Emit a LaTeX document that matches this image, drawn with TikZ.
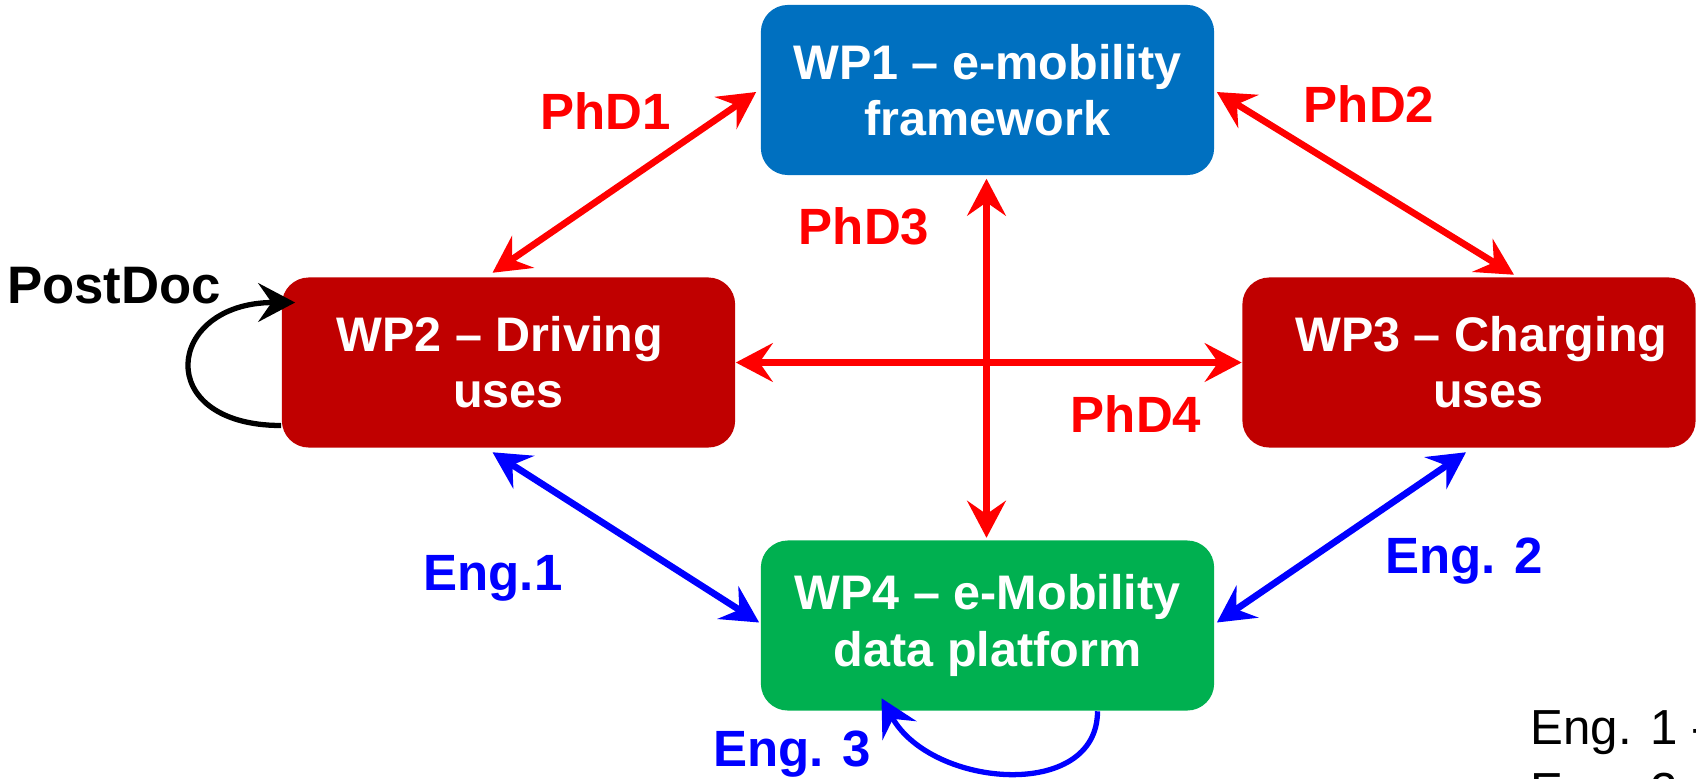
\documentclass[tikz,border=0pt]{standalone}
\usepackage{fontspec}
\setmainfont{Liberation Sans}
\usepackage{xcolor}
\usetikzlibrary{arrows.meta, positioning, calc}
\definecolor{wpblue}{HTML}{0070C0}
\definecolor{wpred}{HTML}{C00000}
\definecolor{wpgreen}{HTML}{00B050}

\begin{document}
\begin{tikzpicture}[x=0.01cm, y=-0.01cm,
    wpbox/.style={rounded corners=0.27cm, minimum width=4.53cm, minimum height=1.7cm,
      inner sep=0pt, text=white, align=center, font=\fontsize{13.8}{16}\selectfont\bfseries},
    twoway/.style={{Stealth[length=10.5pt,width=11pt,inset=3.8pt]}-{Stealth[length=10.5pt,width=11pt,inset=3.8pt]},
      line width=1.9pt},
    oneway/.style={-{Stealth[length=10.5pt,width=11pt,inset=3.8pt]}, line width=1.5pt},
    lbl/.style={anchor=base, inner sep=0pt, font=\fontsize{14.5}{16}\selectfont\bfseries}]
          \useasboundingbox (0,0) rectangle (1696,778);

          \coordinate (C1) at (987.5,90);
          \coordinate (C2) at (508.5,362.5);
          \coordinate (C3) at (1469,362.5);
          \coordinate (C4) at (987.5,625.5);

          \node[wpbox, fill=wpblue] (WP1) at (C1) {WP1 – e-mobility\\framework};
          \node[wpbox, fill=wpred] (WP2) at (C2) {WP2 – Driving\hspace*{5pt}\\uses};
          \node[wpbox, fill=wpred] (WP3) at (C3) {\hspace*{7pt}WP3 – Charging\\\hspace*{11pt}uses};
          \node[wpbox, fill=wpgreen] (WP4) at (C4) {WP4 – e-Mobility\\data platform};

          % PhD links
          \draw[twoway, red] ($(WP2.north)+(-16,-4)$) -- ($(WP1.west)+(-4,2)$);
          \draw[twoway, red] ($(WP1.east)+(2,2)$) -- ($(WP3.north)+(45,-2)$);
          \draw[twoway, red] ($(WP1.south)+(-1,3)$) -- ($(WP4.north)+(-1,-2)$);
          \draw[twoway, red] (WP2.east) -- (WP3.west);

          % Eng links
          \draw[twoway, blue] ($(WP2.south)+(-16,4)$) -- ($(WP4.west)+(-1,-3)$);
          \draw[twoway, blue] ($(WP3.south)+(-3,4)$) -- ($(WP4.east)+(2,-3)$);

          % loops
          \draw[oneway, black] ($(WP2.west)+(0,63)$) .. controls +(-130,0) and +(-130,0) .. ($(WP2.west)+(14,-60)$);
          \draw[oneway, blue] ($(WP4.south)+(110,0)$) .. controls +(0,90) and +(50,90) .. ($(WP4.south)+(-106,-13)$);

          \node[lbl, red] (phd1) at (606,129) {PhD1};
          \node[lbl, red] (phd2) at (1369,122) {PhD2};
          \node[lbl, red] (phd3) at (864,244) {PhD3};
          \node[lbl, red] (phd4) at (1136,432) {PhD4};
          \node[lbl, black, font=\fontsize{15}{16}\selectfont\bfseries] (postdoc) at (114,303) {PostDoc};
          \node[lbl, blue] (eng1) at (493,590) {Eng.1};
          \node[lbl, blue] (eng2) at (1464,573) {Eng. 2};
          \node[lbl, blue] (eng3) at (792,766) {Eng. 3};

          \node[anchor=north west, inner sep=0pt, align=left, font=\fontsize{14}{18}\selectfont] (note) at (1530,710) {Eng. 1 -\\Eng. 2 -};
        \end{tikzpicture}
\end{document}
